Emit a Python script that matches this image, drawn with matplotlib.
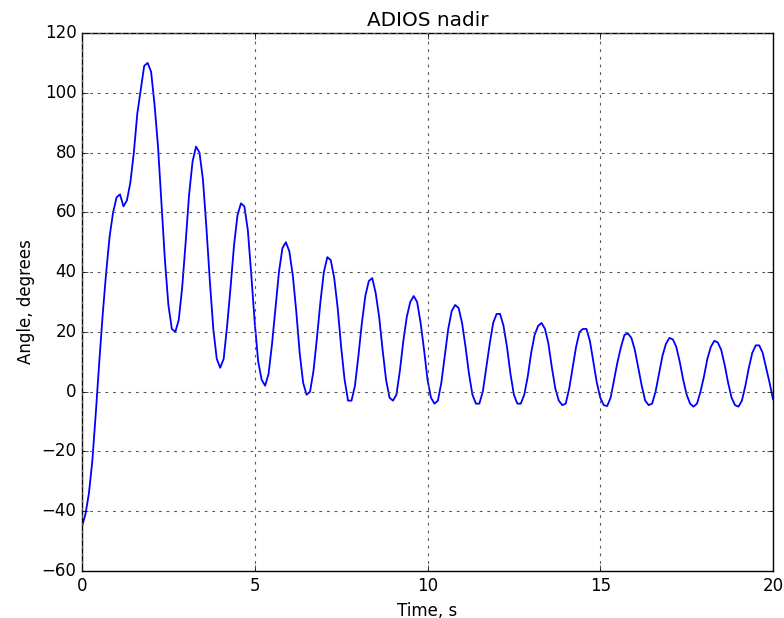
"""ADIOS nadir pointing angle vs time, old-matplotlib look."""

import matplotlib

matplotlib.use("Agg")
import matplotlib.pyplot as plt
import numpy as np

time_s = np.round(np.arange(0, 201) * 0.1, 1)
angle_deg = [
    -45, -41, -34, -23, -7, 10, 26, 40, 52, 60,
    65, 66, 62, 64, 70, 80, 93, 101, 109, 110,
    107, 96, 82, 63, 44, 29, 21, 20, 24, 35,
    50, 66, 77, 82, 80, 71, 55, 37, 21, 11,
    8, 11, 22, 35, 49, 59, 63, 62, 54, 39,
    23, 10, 4, 2, 6, 16, 28, 40, 48, 50,
    47, 39, 27, 13, 3, -1, 0, 7, 18, 30,
    40, 45, 44, 38, 28, 15, 4, -3, -3, 2,
    12, 23, 32, 37, 38, 33, 25, 14, 4, -2,
    -3, -1, 7, 17, 25, 30, 32, 30, 23, 14,
    4, -2, -4, -3, 3, 12, 21, 27, 29, 28,
    23, 15, 6, -1, -4, -4, 0, 8, 16, 23,
    26, 26, 22, 15, 6, -1, -4, -4, -1, 5,
    13, 19, 22, 23, 21, 16, 8, 1, -3, -4.5,
    -4, 1, 8, 15, 20, 21, 21, 17, 10, 3,
    -2, -4.5, -4.8, -2, 4, 10, 15, 19, 19.5, 18,
    14, 8, 2, -3, -4.5, -4, 0, 6, 12, 16,
    18, 17.5, 15, 10, 4, -1, -4, -5, -4, 0,
    5, 11, 15, 17, 16.5, 14, 9, 3, -2, -4.5,
    -5, -3, 2, 8, 13, 15.5, 15.5, 13, 8, 3,
    -2.5,
]

plt.style.use("classic")
plt.rcParams["savefig.facecolor"] = "white"
plt.rcParams["figure.facecolor"] = "white"

fig = plt.figure(figsize=(7.84, 6.18), dpi=100)
ax = fig.add_axes([0.1046, 0.076, 0.8814, 0.8706])
ax.plot(time_s, angle_deg, color="b", lw=1.3)
ax.set_xlim(0, 20)
ax.set_ylim(-60, 120)
ax.set_xticks([0, 5, 10, 15, 20])
ax.set_yticks(np.arange(-60, 121, 20))
ax.grid(True, color="0.35", ls=(0, (2, 3.5)), lw=0.8)
ax.set(xlabel="Time, s", ylabel="Angle, degrees")
ax.set_title("ADIOS nadir")

fig.savefig("out.png", dpi=100)
